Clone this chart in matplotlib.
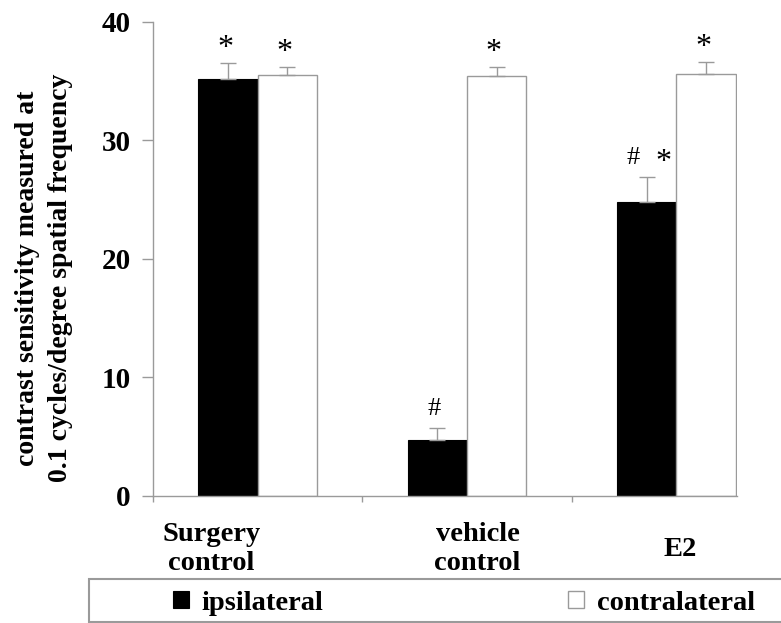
import numpy as np
import matplotlib.pyplot as plt
from matplotlib.patches import Rectangle

plt.rcParams['font.family'] = ['Liberation Serif', 'DejaVu Serif']

groups = ["Surgery\ncontrol", "vehicle\ncontrol", "E2"]
ipsi = [35.2, 4.7, 24.8]
ipsi_err = [1.3, 1.0, 2.1]
contra = [35.5, 35.4, 35.6]
contra_err = [0.7, 0.8, 1.0]
ipsi_marks = ["*", "#", "#*"]
contra_marks = ["*", "*", "*"]
series_names = ["ipsilateral", "contralateral"]

GRAY = "#9a9a9a"
W, H = 781, 623

fig = plt.figure(figsize=(W / 100, H / 100), dpi=100)
ax = fig.add_axes([153 / W, 1 - 495.7 / H, (737 - 153) / W, (495.7 - 21.7) / H])

x = np.arange(len(groups))
bw = 0.284
ek = dict(ecolor=GRAY, elinewidth=1.0, capsize=6, capthick=1.0)
b1 = ax.bar(x - bw / 2, ipsi, bw, color="black", edgecolor="black", linewidth=0.8,
            yerr=[np.zeros(3), ipsi_err], error_kw=ek)
b2 = ax.bar(x + bw / 2, contra, bw, color="white", edgecolor=GRAY, linewidth=1.0,
            yerr=[np.zeros(3), contra_err], error_kw=ek)

# significance marks above error bars (several marks on one bar are spread sideways)
for xs, vals, errs, marks in [(x - bw / 2, ipsi, ipsi_err, ipsi_marks),
                              (x + bw / 2, contra, contra_err, contra_marks)]:
    for xi, v, e, m in zip(xs, vals, errs, marks):
        n = len(m)
        for k, ch in enumerate(m):
            dx = (-2 if n == 1 else 1) + (k - (n - 1) / 2) * 22
            if ch == "*":
                ax.annotate(ch, (xi, v + e), textcoords="offset points", xytext=(dx, 0),
                            ha="center", va="bottom", fontsize=23, color="black")
            else:
                ax.annotate(ch, (xi, v + e), textcoords="offset points", xytext=(dx, 6),
                            ha="center", va="bottom", fontsize=19, color="black")

ax.set_xlim(-0.5, 2.29)
ax.set_ylim(0, 40)
ax.set_yticks([0, 10, 20, 30, 40])
ax.tick_params(axis="y", length=8, width=1, color=GRAY, pad=8, labelsize=21)
for lab in ax.get_yticklabels():
    lab.set_fontweight("bold")
ax.set_xticks([-0.5, 0.5, 1.5])
ax.set_xticklabels([])
ax.tick_params(axis="x", length=4, width=1, color=GRAY)

for s in ["top", "right"]:
    ax.spines[s].set_visible(False)
for s in ["left", "bottom"]:
    ax.spines[s].set_color(GRAY)
    ax.spines[s].set_linewidth(1.0)

label_shift = [-0.22, 0.05, 0.02]
for xi, g, sh in zip(x, groups, label_shift):
    ax.text(xi + sh, -4.5, g, ha="center", va="center", fontsize=20.5,
            fontweight="bold", linespacing=1.2)

fig.text(44 / W, 1 - 278 / H, "contrast sensitivity measured at\n0.1 cycles/degree spatial frequency",
         rotation=90, ha="center", va="center", fontsize=20, fontweight="bold",
         linespacing=1.4)

# legend box at the bottom
fig.patches.append(Rectangle((89 / W, 1 - 622 / H), 1, 43 / H, transform=fig.transFigure,
                             facecolor="white", edgecolor=GRAY, linewidth=1.5))
leg = fig.legend([b1, b2], series_names, ncol=2, frameon=False, loc="center left",
                 bbox_to_anchor=(173 / W, 1 - 603 / H), borderaxespad=0,
                 handlelength=0.55, handleheight=0.55,
                 handletextpad=0.45, columnspacing=8.6, borderpad=0,
                 prop=dict(size=20.5, weight="bold"))

fig.savefig("out.png", dpi=100)
